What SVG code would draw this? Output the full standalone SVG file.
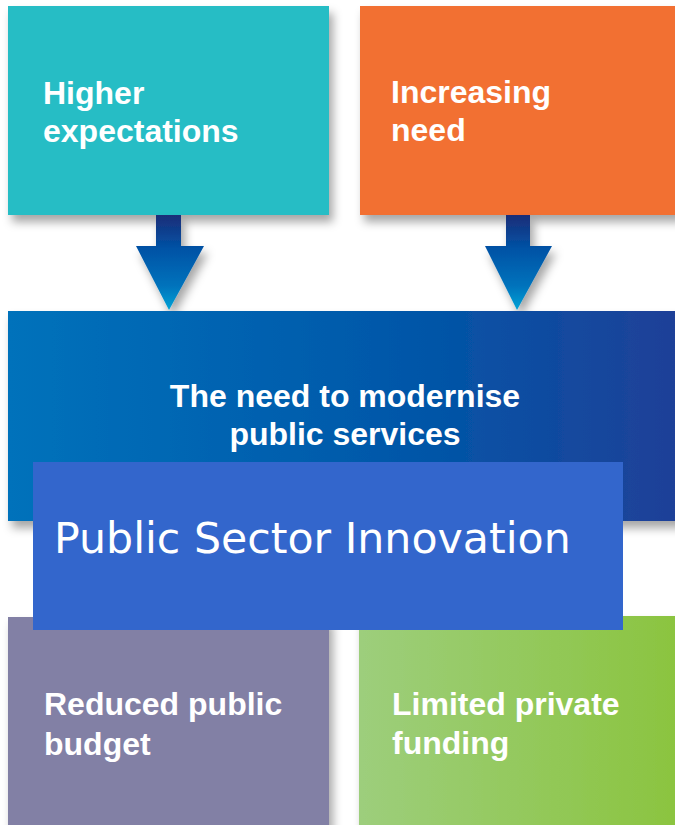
<svg xmlns="http://www.w3.org/2000/svg" width="675" height="825" viewBox="0 0 675 825">
<defs>
<style>
.lbl{font-family:"Liberation Sans",Arial,sans-serif;font-weight:bold;font-size:32px;fill:#ffffff}
.big{font-family:"DejaVu Sans",Verdana,sans-serif;font-size:42.7px;fill:#ffffff}
</style>
<filter id="sh" x="-10%" y="-10%" width="130%" height="130%">
<feDropShadow dx="4" dy="7" stdDeviation="5" flood-color="#000" flood-opacity="0.35"/>
</filter>
<linearGradient id="gMain" x1="0" y1="0" x2="1" y2="0">
<stop offset="0" stop-color="#0072bb"/>
<stop offset="0.6" stop-color="#0056a8"/>
<stop offset="1" stop-color="#213f97"/>
</linearGradient>
<linearGradient id="gGreen" x1="0" y1="0" x2="1" y2="0">
<stop offset="0" stop-color="#9dce7c"/>
<stop offset="1" stop-color="#8bc43f"/>
</linearGradient>
<linearGradient id="gArrow" x1="0" y1="0" x2="0" y2="1">
<stop offset="0" stop-color="#1b2d78"/>
<stop offset="0.35" stop-color="#0052a5"/>
<stop offset="0.75" stop-color="#0073bc"/>
<stop offset="1" stop-color="#00a3d6"/>
</linearGradient>
</defs>
<rect width="675" height="825" fill="#ffffff"/>

<g id="node-higher">
<rect x="8" y="6" width="321" height="209" fill="#25bdc5" filter="url(#sh)"/>
<text class="lbl" x="43" y="104">Higher</text>
<text class="lbl" x="43" y="142">expectations</text>
</g>

<g id="node-increasing">
<rect x="360" y="6" width="320" height="209" fill="#f26f33" filter="url(#sh)"/>
<text class="lbl" x="391" y="103">Increasing</text>
<text class="lbl" x="391" y="141">need</text>
</g>

<g id="connectors">
<path d="M156,215 H181 V246 H204 L169,310 L136,246 H156 Z" fill="url(#gArrow)" filter="url(#sh)"/>
<path d="M506,215 H530 V246 H552 L517,310 L485,246 H506 Z" fill="url(#gArrow)" filter="url(#sh)"/>
</g>

<g id="node-modernise">
<rect x="8" y="311" width="680" height="210" fill="url(#gMain)" filter="url(#sh)"/>
<text class="lbl" x="345" y="407" text-anchor="middle">The need to modernise</text>
<text class="lbl" x="345" y="445" text-anchor="middle">public services</text>
</g>

<g id="node-budget">
<rect x="8" y="617" width="321" height="220" fill="#8280a5" filter="url(#sh)"/>
<text class="lbl" x="44" y="715">Reduced public</text>
<text class="lbl" x="44" y="755">budget</text>
</g>

<g id="node-funding">
<rect x="359" y="616" width="320" height="220" fill="url(#gGreen)" filter="url(#sh)"/>
<text class="lbl" x="392" y="715">Limited private</text>
<text class="lbl" x="392" y="754">funding</text>
</g>

<g id="node-psi">
<rect x="33" y="462" width="590" height="168" fill="#3366cc"/>
<text class="big" x="54" y="553">Public Sector Innovation</text>
</g>
</svg>
